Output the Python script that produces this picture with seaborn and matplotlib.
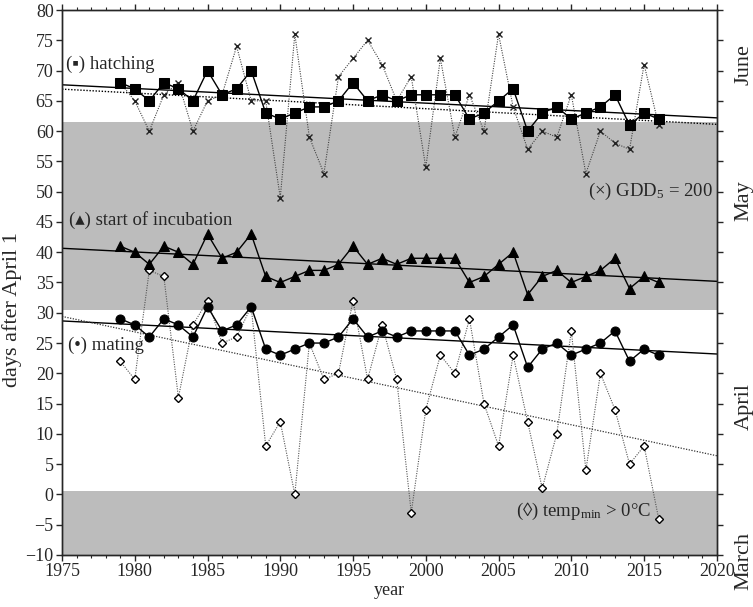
import numpy as np
import pandas as pd
import matplotlib
matplotlib.use('Agg')
import matplotlib.pyplot as plt
import seaborn as sns

years = list(range(1979, 2017))

hatching = [68, 67, 65, 68, 67, 65, 70, 66, 67, 70, 63, 62, 63, 64, 64, 65, 68, 65, 66,
            65, 66, 66, 66, 66, 62, 63, 65, 67, 60, 63, 64, 62, 63, 64, 66, 61, 63, 62]
gdd5 = [68, 65, 60, 66, 68, 60, 65, 66, 74, 65, 65, 49, 76, 59, 53, 69, 72, 75, 71,
        65, 69, 54, 72, 59, 66, 60, 76, 64, 57, 60, 59, 66, 53, 60, 58, 57, 71, 61]
incubation = [41, 40, 38, 41, 40, 38, 43, 39, 40, 43, 36, 35, 36, 37, 37, 38, 41, 38, 39,
              38, 39, 39, 39, 39, 35, 36, 38, 40, 33, 36, 37, 35, 36, 37, 39, 34, 36, 35]
mating = [29, 28, 26, 29, 28, 26, 31, 27, 28, 31, 24, 23, 24, 25, 25, 26, 29, 26, 27,
          26, 27, 27, 27, 27, 23, 24, 26, 28, 21, 24, 25, 23, 24, 25, 27, 22, 24, 23]
tempmin = [22, 19, 37, 36, 16, 28, 32, 25, 26, 31, 8, 12, 0, 25, 19, 20, 32, 19, 28,
           19, -3, 14, 23, 20, 29, 15, 8, 23, 12, 1, 10, 27, 4, 20, 14, 5, 8, -4]

month_names = ['June', 'May', 'April', 'March']
month_pos = [71, 48.5, 14.5, -11.0]
shaded = [(-10, 0.5), (30.5, 61.5)]

df = pd.DataFrame({'year': years, 'hatching': hatching, 'gdd5': gdd5,
                   'incubation': incubation, 'mating': mating, 'tempmin': tempmin})

sns.set_style('ticks')
plt.rcParams['font.family'] = ['Liberation Serif', 'DejaVu Sans']
plt.rcParams.update({'mathtext.fontset': 'custom', 'mathtext.rm': 'Liberation Serif',
                     'mathtext.it': 'Liberation Serif:italic', 'mathtext.default': 'regular',
                     'font.size': 13, 'axes.linewidth': 1.0})

fig = plt.figure(figsize=(7.53, 6.07), dpi=100)
ax = fig.add_axes([0.0823, 0.0857, 0.8697, 0.8978])
ax.set_xlim(1975, 2020)
ax.set_ylim(-10, 80)

for lo, hi in shaded:
    ax.axhspan(lo, hi, color='#bcbcbc', lw=0, zorder=0)

# trend lines over the full x range
trend = dict(scatter=False, ci=None, truncate=False, ax=ax)
sns.regplot(data=df, x='year', y='hatching', line_kws={'color': 'k', 'lw': 1.0, 'zorder': 2}, **trend)
sns.regplot(data=df, x='year', y='gdd5', line_kws={'color': 'k', 'lw': 1.0, 'ls': (0, (1, 1.2)), 'zorder': 2}, **trend)
sns.regplot(data=df, x='year', y='incubation', line_kws={'color': 'k', 'lw': 1.0, 'zorder': 2}, **trend)
sns.regplot(data=df, x='year', y='mating', line_kws={'color': 'k', 'lw': 1.0, 'zorder': 2}, **trend)
sns.regplot(data=df, x='year', y='tempmin', line_kws={'color': '#333333', 'lw': 0.9, 'ls': (0, (1, 1.2)), 'zorder': 2}, **trend)

# dotted weather series
sns.lineplot(data=df, x='year', y='tempmin', ax=ax, color='#555555', lw=0.8, ls=(0, (1, 1.2)),
             marker='D', ms=3.6, mfc='white', mec='black', mew=1.0, zorder=3)
sns.lineplot(data=df, x='year', y='gdd5', ax=ax, color='#444444', lw=0.8, ls=(0, (1, 1.2)),
             marker='x', ms=5, mec='#222222', mew=1.0, zorder=3)

# phenology series
sns.lineplot(data=df, x='year', y='hatching', ax=ax, color='k', lw=1.0, marker='s', ms=7,
             mfc='k', mec='k', zorder=4)
sns.lineplot(data=df, x='year', y='incubation', ax=ax, color='k', lw=1.0, marker='^', ms=7.5,
             mfc='k', mec='k', zorder=4)
sns.lineplot(data=df, x='year', y='mating', ax=ax, color='k', lw=1.0, marker='o', ms=6.5,
             mfc='k', mec='k', zorder=4)

ax.set_xlim(1975, 2020)
ax.set_ylim(-10, 80)
ax.set_xticks(range(1975, 2021, 5))
ax.set_xticks(range(1975, 2021), minor=True)
ax.set_yticks(range(-10, 81, 5))
ax.tick_params(which='both', direction='out', top=True, right=False, labelsize=13)
ax.tick_params(which='major', length=4, width=1, pad=2)
ax.tick_params(which='minor', length=2.5, width=0.8)
ax.set_xlabel('year', fontsize=13, labelpad=1)
ax.set_ylabel('days after April 1', fontsize=16)
ax.yaxis.set_label_coords(-0.061, 0.45)

ax2 = ax.twinx()
ax2.set_ylim(-10, 80)
ax2.set_yticks(range(-10, 81, 5))
ax2.set_yticklabels([])
ax2.tick_params(direction='out', length=4, width=1)
for name, pos in zip(month_names, month_pos):
    ax2.text(1.042, pos, name, transform=ax2.get_yaxis_transform(), rotation=90,
             ha='center', va='center', fontsize=16, clip_on=False)

ax.text(1975.3, 71, '(\u25aa) hatching', fontsize=13.5, va='center', ha='left')
ax.text(1975.5, 45.3, '(\u25b4) start of incubation', fontsize=13.5, va='center', ha='left')
ax.text(1975.4, 24.7, '(\u2022) mating', fontsize=13.5, va='center', ha='left')
ax.text(2019.7, 50, '(\u00d7) GDD$_5$ = 200', fontsize=13.5, va='center', ha='right')
ax.text(2006.2, -2.8, '(\u25ca) temp$_{min}$ > 0\u00b0C', fontsize=13.5, va='center', ha='left')

fig.savefig('out.png', dpi=100)
